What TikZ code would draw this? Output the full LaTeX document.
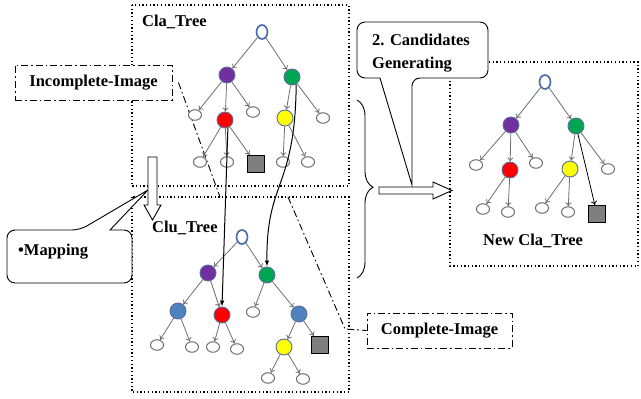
\documentclass[tikz,border=0pt]{standalone}
\usepackage{fontspec}
\setmainfont{Liberation Serif}
\usetikzlibrary{arrows.meta,shapes.geometric,decorations.pathreplacing,calc}
\definecolor{cpur}{HTML}{7030A0}
\definecolor{cgrn}{HTML}{00A651}
\definecolor{cred}{HTML}{FF0000}
\definecolor{cyel}{HTML}{FFFF00}
\definecolor{cblu}{HTML}{4F81BD}
\definecolor{csq}{HTML}{7F7F7F}
\definecolor{croot}{HTML}{4A6EA8}
\definecolor{cring}{HTML}{5A6E9A}
\definecolor{cedge}{HTML}{6E6E6E}
\tikzset{
  frm/.style={line width=1.3pt, dash pattern=on 1.3pt off 2.4pt},
  dashdot/.style={line width=0.9pt, dash pattern=on 7pt off 3pt on 1.6pt off 3pt},
  txt/.style={font=\fontsize{16.5}{23}\selectfont\bfseries, inner sep=0pt},
  tagbox/.style={txt, rectangle, draw, dashdot, fill=white},
  callout/.style={draw, fill=white, line width=0.9pt, rounded corners=8pt},
  leaf/.style={ellipse, draw=cedge, line width=1pt, fill=white,
               minimum width=13pt, minimum height=10.5pt, inner sep=0pt},
  rootn/.style={ellipse, draw=croot, line width=1.7pt, fill=white,
                minimum width=11pt, minimum height=14pt, inner sep=0pt},
  colnode/.style={circle, draw=cring, line width=0.9pt, fill=#1,
                  minimum size=16pt, inner sep=0pt},
  sqn/.style={rectangle, draw=black, line width=1pt, fill=csq,
              minimum size=17pt, inner sep=0pt},
  edg/.style={-{To[length=4pt,width=6pt]}, draw=cedge, line width=0.8pt},
  link/.style={-{Latex[length=6pt,width=4.5pt]}, line width=1pt},
  blockarr/.style={draw, fill=white, line width=0.9pt}
}
\begin{document}
\begin{tikzpicture}[x=1pt,y=-1pt]
\useasboundingbox (0,0) rectangle (641,399);
% frames
\draw[frm] (132,5) rectangle (349,186);
\draw[frm] (132,197) rectangle (349,392);
\draw[frm] (450,62) rectangle (638,266);
\node[txt, anchor=base west] (clalbl) at (142,26) {Cla\_Tree};
\node[txt, anchor=base west] (clulbl) at (152,232) {Clu\_Tree};
\node[txt, anchor=base west] (newlbl) at (483,245) {New Cla\_Tree};
% dash-dot pointers
\node[tagbox, minimum width=157pt, minimum height=35pt] (inc) at (93.5,82.5) {Incomplete-Image};
\node[tagbox, minimum width=145pt, minimum height=35pt] (comp) at (439.5,330.5) {Complete-Image};
\coordinate (ia) at (220,197);
\coordinate (ca) at (288,197);
\coordinate (cb) at (345,329);
\draw[dashdot] ([xshift=6pt]inc.east) -- (ia);
\draw[dashdot] (ca) -- (cb) -- (comp.west);

% Cla_Tree
\node[rootn] (c0) at (262,32) {};
\node[colnode=cpur] (c1) at (227,75) {};
\node[colnode=cgrn] (c2) at (292,77) {};
\node[leaf] (c11) at (195,115) {};
\node[colnode=cred] (c12) at (225,120) {};
\node[leaf] (c13) at (253,112) {};
\node[colnode=cyel] (c21) at (285,118) {};
\node[leaf] (c22) at (323,118) {};
\node[leaf] (c121) at (200,162) {};
\node[leaf] (c122) at (227,162) {};
\node[sqn] (c123) at (256,164) {};
\node[leaf] (c211) at (283,162) {};
\node[leaf] (c212) at (308,162) {};
\draw[edg] (c0)--(c1); \draw[edg] (c0)--(c2);
\draw[edg] (c1)--(c11); \draw[edg] (c1)--(c12); \draw[edg] (c1)--(c13);
\draw[edg] (c2)--(c21); \draw[edg] (c2)--(c22);
\draw[edg] (c12)--(c121); \draw[edg] (c12)--(c122); \draw[edg] (c12)--(c123);
\draw[edg] (c21)--(c211); \draw[edg] (c21)--(c212);

% Clu_Tree
\node[rootn] (u0) at (242,237) {};
\node[colnode=cpur] (u1) at (208,273) {};
\node[colnode=cgrn] (u2) at (267,275) {};
\node[colnode=cblu] (u11) at (178,311) {};
\node[colnode=cred] (u12) at (222,315) {};
\node[leaf] (u21) at (253,312) {};
\node[colnode=cblu] (u22) at (299,314) {};
\node[leaf] (u111) at (157,345) {};
\node[leaf] (u112) at (192,347) {};
\node[leaf] (u121) at (213,347) {};
\node[leaf] (u122) at (237,349) {};
\node[colnode=cyel] (u221) at (284,347) {};
\node[sqn] (u222) at (320,345) {};
\node[leaf] (u2211) at (268,378) {};
\node[leaf] (u2212) at (303,379) {};
\draw[edg] (u0)--(u1); \draw[edg] (u0)--(u2);
\draw[edg] (u1)--(u11); \draw[edg] (u1)--(u12);
\draw[edg] (u2)--(u21); \draw[edg] (u2)--(u22);
\draw[edg] (u11)--(u111); \draw[edg] (u11)--(u112);
\draw[edg] (u12)--(u121); \draw[edg] (u12)--(u122);
\draw[edg] (u22)--(u221); \draw[edg] (u22)--(u222);
\draw[edg] (u221)--(u2211); \draw[edg] (u221)--(u2212);

% New Cla_Tree
\node[rootn] (n0) at (545,82) {};
\node[colnode=cpur] (n1) at (511,125) {};
\node[colnode=cgrn] (n2) at (576,126) {};
\node[leaf] (n11) at (476,165) {};
\node[colnode=cred] (n12) at (510,170) {};
\node[leaf] (n13) at (536,163) {};
\node[colnode=cyel] (n21) at (570,169) {};
\node[leaf] (n22) at (608,169) {};
\node[sqn] (n23) at (597,214) {};
\node[leaf] (n121) at (483,209) {};
\node[leaf] (n122) at (508,212) {};
\node[leaf] (n211) at (542,208) {};
\node[leaf] (n212) at (568,212) {};
\draw[edg] (n0)--(n1); \draw[edg] (n0)--(n2);
\draw[edg] (n1)--(n11); \draw[edg] (n1)--(n12); \draw[edg] (n1)--(n13);
\draw[edg] (n2)--(n21); \draw[edg] (n2)--(n22);
\draw[edg, draw=black] (n2)--(n23);
\draw[edg] (n12)--(n121); \draw[edg] (n12)--(n122);
\draw[edg] (n21)--(n211); \draw[edg] (n21)--(n212);

% mapping links
\draw[link] (c12.-70) -- (u12.north);
\draw[link] (c2.-60) .. controls (295,190) and (266,180) .. (u2.north);

% callouts
\coordinate (ctip) at (412,185);
\coordinate (mtip) at (148,190);
\path[callout] (380,78) -- (357,78) -- (357,22) -- (488,22) -- (488,78) -- (412,78)
  [sharp corners] -- (ctip) -- cycle;
\node[txt, anchor=north west, align=left] (cand) at (372,33.5) {2. Candidates\\Generating};
\path[callout] (110,230) -- (132,230) -- (132,283) -- (7,283) -- (7,230) -- (80,230)
  [sharp corners] -- (mtip) -- cycle;
\node[txt, anchor=base west] (map) at (18,255) {\textbullet Mapping};

% brace and block arrows
\draw[decorate, decoration={brace, amplitude=16pt, aspect=0.49}, line width=0.9pt]
  (357,100) -- (357,278);
\draw[blockarr] (379,187) -- (433,187) -- (433,182) -- (452,190.5) -- (433,199)
  -- (433,194) -- (379,194) -- cycle;
\draw[blockarr] (148,157) -- (157,157) -- (157,205) -- (161,205) -- (152.5,220)
  -- (144,205) -- (148,205) -- cycle;
\end{tikzpicture}
\end{document}
